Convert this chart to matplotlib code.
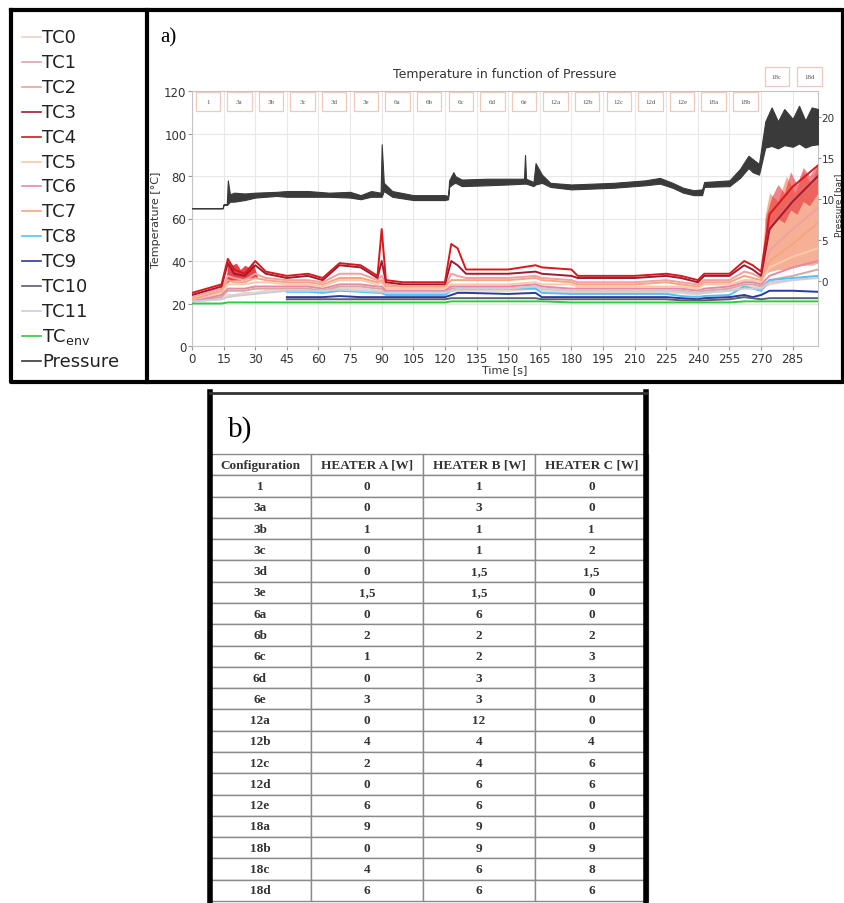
import numpy as np
import matplotlib.pyplot as plt
from matplotlib.lines import Line2D
from matplotlib.patches import Rectangle

# ---- data -------------------------------------------------------------
time_s = [0, 14, 17, 20, 25, 30, 35, 45, 55, 62, 70, 80, 88, 90, 92, 100, 120, 123, 126, 130,
          150, 163, 166, 180, 183, 210, 225, 232, 240, 243, 255, 262, 266, 270, 274, 285, 297]

tc0 = [21, 22, 24, 24, 25, 25, 26, 26, 26, 26, 27, 27, 26, 26, 25, 25, 25, 26, 26, 26,
       26, 27, 26, 25, 25, 25, 25, 25, 24, 25, 26, 28, 28, 27, 29, 31, 33]
tc1 = [21, 23, 26, 26, 26, 27, 27, 27, 27, 26, 28, 28, 27, 27, 25, 25, 25, 27, 27, 27,
       27, 28, 27, 26, 26, 26, 26, 26, 25, 26, 27, 29, 29, 28, 31, 33, 36]
tc2 = [23, 27, 33, 32, 31, 34, 32, 31, 31, 30, 34, 34, 31, 33, 29, 28, 28, 34, 33, 32,
       32, 33, 32, 31, 30, 30, 31, 30, 29, 31, 31, 35, 34, 32, 45, 55, 65]
tc3 = [24, 28, 39, 34, 33, 38, 34, 32, 33, 31, 38, 37, 32, 40, 30, 29, 29, 40, 38, 34,
       34, 35, 34, 33, 32, 32, 33, 32, 30, 33, 33, 38, 36, 33, 55, 68, 80]
tc4 = [25, 29, 41, 36, 34, 40, 35, 33, 34, 32, 39, 38, 33, 55, 31, 30, 30, 48, 46, 36,
       36, 38, 37, 36, 33, 33, 34, 33, 31, 34, 34, 40, 38, 35, 62, 75, 85]
tc5 = [22, 25, 29, 29, 29, 30, 30, 29, 29, 28, 31, 31, 29, 30, 27, 27, 27, 29, 29, 29,
       29, 30, 29, 29, 28, 28, 28, 28, 27, 29, 29, 31, 31, 30, 37, 42, 46]
tc6 = [21, 24, 27, 27, 27, 28, 28, 28, 28, 27, 29, 29, 28, 28, 26, 26, 26, 28, 28, 28,
       28, 29, 28, 27, 27, 27, 27, 27, 26, 27, 28, 30, 30, 29, 33, 37, 40]
tc7 = [22, 26, 31, 30, 30, 32, 31, 30, 30, 29, 32, 32, 30, 31, 28, 28, 28, 31, 31, 31,
       31, 32, 31, 30, 29, 29, 30, 29, 28, 30, 30, 33, 32, 31, 40, 48, 58]
tc8 = [None] * 7 + [25.5, 25.5, 25, 26, 25.5, 25, 25, 24, 24, 24, 26, 27, 27,
                    27, 27, 25, 24.5, 24.5, 24.5, 24.5, 23.5, 23, 23.5, 24, 28, 27, 26, 31, 32, 33]
tc9 = [None] * 7 + [23, 23, 23, 23.5, 23, 23, 23, 23, 23, 23, 24, 25, 25,
                    24.5, 25, 23, 23, 23, 23, 23, 22.5, 22, 22.5, 23, 24, 23, 24, 26, 26, 25.5]
tc10 = [None] * 7 + [22, 22, 22, 22, 22, 22, 22, 22, 22, 22, 22.5, 22.5, 22.5,
                     22.5, 22.5, 22, 22, 22, 22, 22, 21.5, 21.5, 21.5, 22, 23, 22.5, 22, 22.5, 22.5, 22.5]
tc11 = [21, 22, 23, 23.5, 24, 24.5, 25, 26, 26, 26, 26.5, 26, 25.5, 25.5, 25, 25, 25, 26, 27, 27,
        27, 28, 27, 26, 26, 26, 26, 25.5, 25, 25, 26, 27, 27, 27, 30, 31, 32]
tc_env = [20, 20, 20.5, 20.5, 20.5, 20.5, 20.5, 20.5, 20.5, 20.5, 20.5, 20.5, 20.5, 20.5, 20.5, 20.5,
          20.5, 21, 21, 21, 21, 21, 21, 20.5, 20.5, 20.5, 20.5, 20.5, 20.5, 20.5, 20.5, 21, 21, 21, 21, 21, 21]

# noisy ranges (temperature)
hot_t = [270, 272, 274, 278, 282, 286, 290, 294, 297]
hot_lo = [33, 34, 35, 36, 36, 37, 38, 38, 39]
hot_hi = [36, 62, 72, 68, 80, 72, 82, 76, 86]
red_t = [272, 275, 278, 281, 284, 287, 290, 293, 297]
red_lo = [50, 56, 60, 58, 64, 62, 68, 66, 72]
red_hi = [60, 70, 76, 72, 82, 76, 84, 80, 86]
burst_t = [16, 17, 19, 21, 23, 25, 27, 29, 31]
burst_lo = [29, 30, 31, 31, 31, 32, 32, 32, 32]
burst_hi = [29, 40, 38, 39, 36, 38, 37, 39, 33]

# pressure envelope [bar]
press_t = [0, 14.5, 15, 16.5, 17, 18, 20, 25, 30, 40, 45, 55, 65, 75, 80, 85, 89.5, 90, 91, 95,
           105, 115, 120, 121.5, 122, 124, 125, 128, 140, 150, 157.5, 158, 158.5, 162, 163, 166,
           170, 180, 200, 215, 222, 228, 233, 238, 242, 243, 255, 260, 264, 266, 269, 272, 275,
           278, 281, 285, 288, 291, 294, 297]
press_lo = [8.9, 8.9, 9.3, 9.3, 9.4, 9.7, 9.7, 9.9, 10.2, 10.4, 10.3, 10.3, 10.3, 10.2, 10.0, 10.3,
            10.3, 10.3, 11.0, 10.3, 9.9, 9.9, 9.9, 10.0, 11.5, 11.9, 12.0, 11.6, 11.7, 11.8, 11.9,
            11.9, 11.9, 11.6, 11.8, 12.0, 11.5, 11.2, 11.4, 11.7, 11.9, 11.4, 10.8, 10.5, 10.5,
            11.5, 11.6, 12.6, 13.8, 13.3, 13.0, 16.3, 16.5, 16.2, 16.6, 16.4, 16.8, 16.3, 16.6, 16.7]
press_hi = [8.9, 8.9, 9.4, 9.4, 12.3, 10.6, 10.8, 10.7, 10.8, 10.9, 11.0, 11.0, 10.8, 10.9, 10.5, 11.0,
            10.8, 16.7, 12.0, 11.0, 10.5, 10.5, 10.5, 10.4, 12.3, 13.3, 12.8, 12.4, 12.5, 12.5, 12.5,
            15.4, 12.5, 12.1, 14.4, 13.0, 12.0, 11.8, 12.0, 12.3, 12.6, 12.0, 11.4, 11.1, 11.2,
            12.1, 12.3, 13.7, 15.3, 14.9, 14.3, 19.5, 21.2, 19.5, 21.0, 19.8, 21.4, 19.6, 21.2, 21.0]

names = ['TC0', 'TC1', 'TC2', 'TC3', 'TC4', 'TC5', 'TC6', 'TC7', 'TC8', 'TC9', 'TC10', 'TC11',
         r'TC$_{\mathrm{env}}$', 'Pressure']
colors = ['#e9d2c8', '#d8a7a3', '#f2a0a0', '#9e1b32', '#d7191c', '#f9c9ab', '#e48aa6', '#f4a582',
          '#4fc3f7', '#2b3a9e', '#5a5f6b', '#cdcdd8', '#2ecc40', '#3a3a3a']

configs = ['1', '3a', '3b', '3c', '3d', '3e', '6a', '6b', '6c', '6d', '6e',
           '12a', '12b', '12c', '12d', '12e', '18a', '18b', '18c', '18d']
config_t = [7.5, 22.5, 37.5, 52.5, 67.5, 82.5, 97.5, 112.5, 127.5, 142.5, 157.5,
            172.5, 187.5, 202.5, 217.5, 232.5, 247.5, 262.5, 277.5, 293]
heater_a = ['0', '0', '1', '0', '0', '1,5', '0', '2', '1', '0', '3', '0', '4', '2', '0', '6', '9', '0', '4', '6']
heater_b = ['1', '3', '1', '1', '1,5', '1,5', '6', '2', '2', '3', '3', '12', '4', '4', '6', '6', '9', '9', '6', '6']
heater_c = ['0', '0', '1', '2', '1,5', '0', '0', '2', '3', '3', '0', '0', '4', '6', '6', '0', '0', '9', '8', '6']
header = ['Configuration', 'HEATER A [W]', 'HEATER B [W]', 'HEATER C [W]']

# ---- figure -----------------------------------------------------------
W, H = 845, 904
fig = plt.figure(figsize=(W / 100, H / 100), dpi=100)


def fx(x):
    return x / W


def fy(y):
    return 1 - y / H


def fline(xs, ys, lw, color='black'):
    fig.add_artist(Line2D([fx(v) for v in xs], [fy(v) for v in ys], lw=lw, color=color,
                          transform=fig.transFigure, zorder=10))


ax = fig.add_axes([fx(192), fy(347), (818 - 192) / W, (347 - 92) / H])
temps = [tc0, tc1, tc2, tc3, tc4, tc5, tc6, tc7, tc8, tc9, tc10, tc11, tc_env]
ax.fill_between(burst_t, burst_lo, burst_hi, color='#e8202a', lw=0, alpha=0.85, zorder=2)
ax.fill_between(hot_t, hot_lo, hot_hi, color='#f6a88a', lw=0, alpha=0.9, zorder=2)
ax.fill_between(red_t, red_lo, red_hi, color='#e8303a', lw=0, alpha=0.6, zorder=2)
for vals, col in zip(temps, colors[:-1]):
    ax.plot(time_s, np.array(vals, dtype=float), color=col, lw=1.4, zorder=3)

ax.set_xlim(0, 297)
ax.set_ylim(0, 120)
ax.set_xticks(range(0, 286, 15))
ax.set_yticks(range(0, 121, 20))
ax.grid(True, color='#e8e8e8', lw=0.8)
ax.set_axisbelow(True)
for s in ax.spines.values():
    s.set_color('#c4c4c4')
ax.tick_params(labelsize=8.5, colors='#999999', labelcolor='#333333', length=3, pad=1)
ax.set_xlabel('Time [s]', fontsize=8, color='#333333', labelpad=0)
ax.set_ylabel('Temperature [°C]', fontsize=8, color='#333333', labelpad=2)
ax.text(0.5, 1.067, 'Temperature in function of Pressure', transform=ax.transAxes,
        ha='center', va='center', fontsize=9, color='#333333')

# configuration boxes
for lab, t in zip(configs, config_t):
    y0 = 110.6 if t < 270 else 122.4
    ax.add_patch(Rectangle((t - 5.8, y0), 11.6, 9, fill=True, fc='white', ec='#efc9bb',
                           lw=0.9, clip_on=False, zorder=5))
    ax.text(t, y0 + 4.5, lab, ha='center', va='center', fontsize=5,
            family='Liberation Serif', color='#555555', clip_on=False, zorder=6)

ax2 = ax.twinx()
ax2.fill_between(press_t, press_lo, press_hi, color=colors[-1], edgecolor=colors[-1], lw=0.8, zorder=3)
ax2.set_ylim(-7.9, 23.2)
ax2.set_yticks([0, 5, 10, 15, 20])
for s in ax2.spines.values():
    s.set_visible(False)
ax2.tick_params(labelsize=7.5, colors='#999999', labelcolor='#333333', length=2, pad=0.5)
fig.text(fx(838.5), fy(205), 'Pressure [bar]', fontsize=6.5, color='#333333', rotation=90,
         ha='center', va='center')

# manual legend in the left box
for i, (name, col) in enumerate(zip(names, colors)):
    y = 38 + 24.9 * i
    fline([22, 41], [y, y], 1.2, col)
    fig.text(fx(42), fy(y), name, fontsize=13, va='center', ha='left', color='#222222')

fig.text(fx(160), fy(38), 'a)', fontsize=15, family='Liberation Serif', va='center')

# panel a frame
fline([11, 843, 843, 11, 11], [11, 11, 383, 383, 11], 3)
fline([147, 147], [11, 383], 3)

# ---- table b) ---------------------------------------------------------
tab_ax = fig.add_axes([fx(209), fy(902), (648 - 209) / W, (902 - 455) / H])
tab_ax.axis('off')
cells = [[c, a, b, d] for c, a, b, d in zip(configs, heater_a, heater_b, heater_c)]
tbl = tab_ax.table(cellText=cells, colLabels=header, cellLoc='center',
                   colWidths=[102 / 439, 112 / 439, 112 / 439, 113 / 439], bbox=[0, 0, 1, 1])
tbl.auto_set_font_size(False)
for (r, c), cell in tbl.get_celld().items():
    cell.set_edgecolor('#8a8a8a')
    cell.set_linewidth(1.0)
    cell.get_text().set_fontsize(9.5)
    cell.get_text().set_fontfamily('Liberation Serif')
    cell.get_text().set_fontweight('bold')
    cell.get_text().set_color('#333333')

fig.text(fx(228), fy(430), 'b)', fontsize=21, family='Liberation Serif', va='center')
fline([210, 210], [393, 904], 4)
fline([646, 646], [393, 904], 4)
fline([210, 646], [394, 394], 2, '#333333')

fig.savefig('out.png', dpi=100)
